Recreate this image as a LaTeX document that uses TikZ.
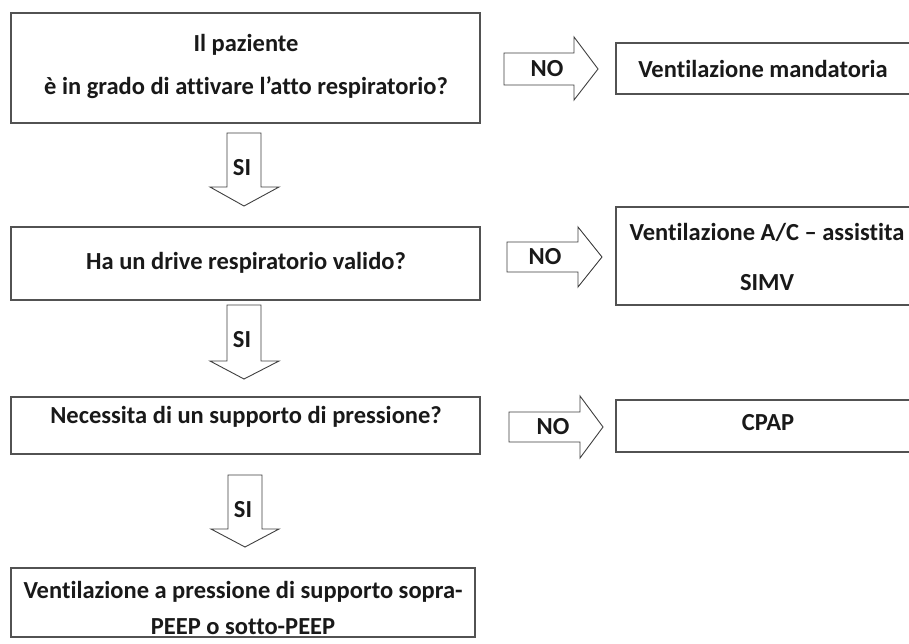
\documentclass[tikz,border=0pt]{standalone}
\usepackage{fontspec}
\setmainfont{Carlito}[Ligatures=NoCommon]
\begin{document}
\begin{tikzpicture}[x=1pt,y=-1pt,
  box/.style={draw=black!68,line width=1.3pt,rectangle,inner sep=0pt},
  blk/.style={draw=black!75,line width=0.9pt,fill=white,line join=miter},
  txt/.style={font=\fontsize{24.5}{28}\selectfont\bfseries,inner sep=0pt,text=black!90}]
\useasboundingbox (0,0) rectangle (909,643);
\fill[white] (0,0) rectangle (909,643);
% left column boxes
\node[box,minimum width=469pt,minimum height=110pt] (q1) at (245.5,68) {};
\node[box,minimum width=469pt,minimum height=73pt] (q2) at (245.5,263.5) {};
\node[box,minimum width=469pt,minimum height=57pt] (q3) at (245.5,425.5) {};
\node[box,minimum width=464pt,minimum height=69pt] (q4) at (243,602.5) {};
% right column boxes
\node[box,minimum width=299pt,minimum height=51pt] (r1) at (765.5,68.5) {};
\node[box,minimum width=299pt,minimum height=98pt] (r2) at (765.5,256) {};
\node[box,minimum width=299pt,minimum height=52pt] (r3) at (765.5,426) {};
% texts
\node[txt] (t1a) at (246,45) {Il paziente};
\node[txt] (t1b) at (246,88) {è in grado di attivare l’atto respiratorio?};
\node[txt] (t2) at (246,263) {Ha un drive respiratorio valido?};
\node[txt] (t3) at (246,417) {Necessita di un supporto di pressione?};
\node[txt] (t4a) at (243,592) {Ventilazione a pressione di supporto sopra-};
\node[txt] (t4b) at (243,627) {PEEP o sotto-PEEP};
\node[txt] (tr1) at (763,69) {Ventilazione mandatoria};
\node[txt] (tr2a) at (767,232) {Ventilazione A/C – assistita};
\node[txt] (tr2b) at (767,283) {SIMV};
\node[txt] (tr3) at (768,423) {CPAP};
% NO block arrows
\draw[blk] (504,53) -- (574,53) -- (574,37) -- (598,69) -- (574,100) -- (574,85) -- (504,85) -- cycle;
\node[txt] (n1) at (547,69) {NO};
\draw[blk] (507,242) -- (578,242) -- (578,227) -- (602,257) -- (578,287) -- (578,272) -- (507,272) -- cycle;
\node[txt] (n2) at (545,257) {NO};
\draw[blk] (509,412) -- (580,412) -- (580,396) -- (603,427) -- (580,458) -- (580,442) -- (509,442) -- cycle;
\node[txt] (n3) at (553,427) {NO};
% SI block arrows
\draw[blk] (227,133) -- (261,133) -- (261,187) -- (279,187) -- (244,206) -- (210,187) -- (227,187) -- cycle;
\node[txt] (s1) at (242,168) {SI};
\draw[blk] (227,305) -- (261,305) -- (261,361) -- (279,361) -- (244,379) -- (210,361) -- (227,361) -- cycle;
\node[txt] (s2) at (242,340) {SI};
\draw[blk] (228,475) -- (262,475) -- (262,529) -- (279,529) -- (245,547) -- (211,529) -- (228,529) -- cycle;
\node[txt] (s3) at (243,510) {SI};
\end{tikzpicture}
\end{document}
